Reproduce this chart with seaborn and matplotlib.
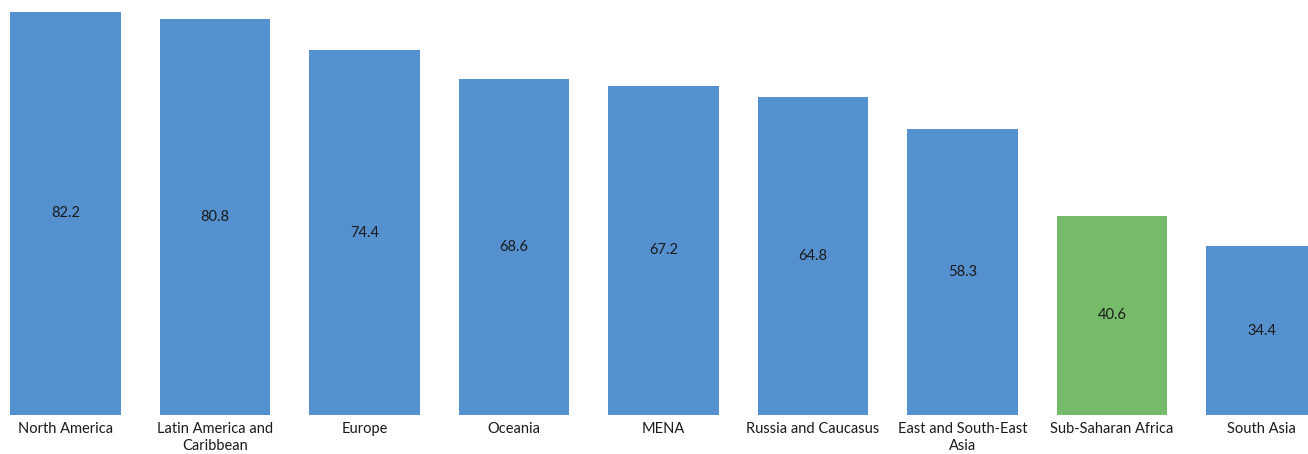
import matplotlib
matplotlib.use("Agg")
import matplotlib.pyplot as plt
import seaborn as sns
import pandas as pd

regions = ["North America", "Latin America and\nCaribbean", "Europe", "Oceania", "MENA",
           "Russia and Caucasus", "East and South-East\nAsia", "Sub-Saharan Africa", "South Asia"]
values = [82.2, 80.8, 74.4, 68.6, 67.2, 64.8, 58.3, 40.6, 34.4]
highlight = "Sub-Saharan Africa"

blue = "#5591CF"
green = "#75BB69"

sns.set_theme(style="white")
plt.rcParams['font.family'] = ['Lato', 'DejaVu Sans']

df = pd.DataFrame({"region": regions, "value": values})
palette = {r: (green if r == highlight else blue) for r in regions}

fig = plt.figure(figsize=(13.08, 4.54), dpi=100)
ax = fig.add_axes([0, 39/454, 1, 415/454])
sns.barplot(data=df, x="region", y="value", hue="region", palette=palette,
            width=0.742, ax=ax, legend=False, saturation=1, linewidth=0)

for i, v in enumerate(values):
    ax.text(i, v / 2, f"{v:.1f}", ha="center", va="center", fontsize=10.5, color="#1a1a1a")

ax.set_xlim(-0.438, 8.311)
ax.set_ylim(0, 84.64)
ax.set_xlabel("")
ax.set_ylabel("")
ax.set_yticks([])
ax.tick_params(axis="x", length=0, pad=5, labelsize=10.5, labelcolor="#1a1a1a")
for lbl in ax.get_xticklabels():
    lbl.set_linespacing(1.3)
for s in ax.spines.values():
    s.set_visible(False)

fig.savefig("out.png", dpi=100)
